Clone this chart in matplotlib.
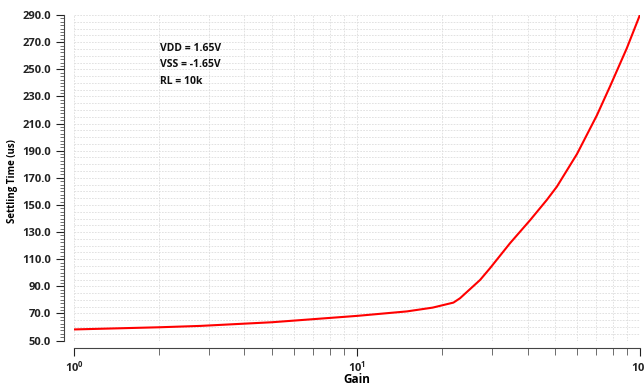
import numpy as np
import matplotlib.pyplot as plt
from matplotlib.ticker import LogLocator, MultipleLocator, NullFormatter

plt.rcParams['font.family'] = ['Open Sans', 'DejaVu Sans']

# Values
gain = [1, 2, 2.79, 5, 10, 15, 18.5, 21.9, 23.1, 27.2, 29.5, 34.7, 40.9,
        46.8, 50.8, 59.8, 70.3, 78.3, 89.7, 100]
settling_us = [58.2, 59.8, 60.8, 63.5, 68.2, 71.5, 74.3, 78.0, 81.2, 94.7,
               103.4, 121.8, 138.9, 153.7, 163.5, 187.5, 216.0, 237.5, 265.5, 290.5]

yticks = np.arange(50, 291, 20)
notes = ["VDD = 1.65V", "VSS = -1.65V", "RL = 10k"]

fig = plt.figure(figsize=(6.44, 3.87), dpi=100)
ax = fig.add_axes([0.115, 0.12, 0.879, 0.841])

ax.plot(gain, settling_us, color="#ff0000", lw=1.5)

ax.set_xscale("log")
ax.set_xlim(1, 100)
ax.set_ylim(50, 290)

ax.set_yticks(yticks)
ax.set_yticklabels(["%.1f" % v for v in yticks])
ax.yaxis.set_minor_locator(MultipleLocator(2.5))
ax.xaxis.set_major_locator(LogLocator(base=10))
ax.xaxis.set_minor_locator(LogLocator(base=10, subs=np.arange(2, 10)))
ax.xaxis.set_minor_formatter(NullFormatter())

# grid: dashed light lines, horizontal every 5 units, vertical on log ticks
for v in np.arange(50, 291, 5):
    ax.axhline(v, color="#dddddd", lw=0.6, ls=(0, (2, 1.5)), zorder=0)
ax.grid(True, which="both", axis="x", color="#dddddd", lw=0.6, ls=(0, (2, 1.5)))
ax.set_axisbelow(True)

for s in ["top", "right"]:
    ax.spines[s].set_visible(False)
ax.spines["left"].set_position(("outward", 7))
ax.spines["bottom"].set_position(("outward", 5))
ax.spines["left"].set_color("#444444")
ax.spines["bottom"].set_color("#444444")

ax.tick_params(axis="y", which="major", length=6, width=0.8, labelsize=8, colors="#222222")
ax.tick_params(axis="y", which="minor", length=3, width=0.6, colors="#555555")
ax.tick_params(axis="x", which="major", length=6, width=0.8, labelsize=8, pad=3, colors="#222222")
ax.tick_params(axis="x", which="minor", length=5, width=0.6, colors="#555555")
for lab in ax.get_xticklabels() + ax.get_yticklabels():
    lab.set_fontweight("bold")

ax.set_xlabel("Gain", fontsize=8.5, fontweight="bold", labelpad=-1)
ax.set_ylabel("Settling Time (us)", fontsize=7, fontweight="bold")
ax.yaxis.set_label_coords(-0.099, 0.49)

for i, t in enumerate(notes):
    fig.text(0.248, 0.868 - i * 0.042, t, fontsize=7.5, fontweight="bold", color="#111111")

fig.savefig("out.png", dpi=100)
